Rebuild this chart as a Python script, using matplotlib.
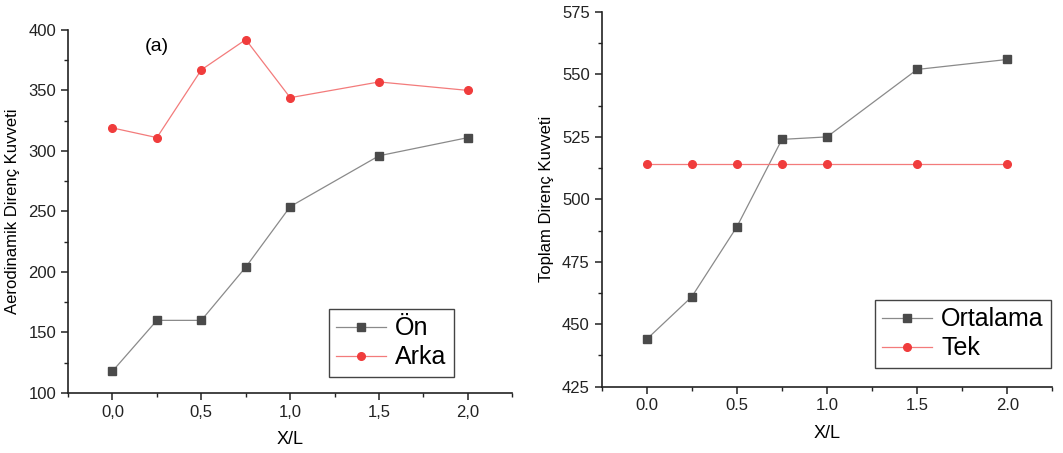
import matplotlib
matplotlib.use('Agg')
import matplotlib.pyplot as plt
from matplotlib.ticker import MultipleLocator, FuncFormatter

plt.rcParams['font.family'] = ['Liberation Sans', 'DejaVu Sans']

# data
xl = [0.0, 0.25, 0.5, 0.75, 1.0, 1.5, 2.0]
on = [118, 160, 160, 204, 254, 296, 311]
arka = [319, 311, 367, 392, 344, 357, 350]

ortalama = [444, 461, 489, 524, 525, 552, 556]
tek = [514, 514, 514, 514, 514, 514, 514]

GREY = '#4a4a4a'
GREY_LINE = '#8a8a8a'
RED = '#f03c3c'
RED_LINE = '#f37b7b'

fig = plt.figure(figsize=(10.63, 4.53), dpi=100)
ax1 = fig.add_axes([0.064, 0.1325, 0.418, 0.8015])
ax2 = fig.add_axes([0.566, 0.1464, 0.424, 0.8271])


def style(ax, ymaj):
    for s in ['top', 'right']:
        ax.spines[s].set_visible(False)
    for s in ['left', 'bottom']:
        ax.spines[s].set_linewidth(1.2)
        ax.spines[s].set_color('#222222')
    ax.xaxis.set_major_locator(MultipleLocator(0.5))
    ax.xaxis.set_minor_locator(MultipleLocator(0.25))
    ax.yaxis.set_major_locator(MultipleLocator(ymaj))
    ax.yaxis.set_minor_locator(MultipleLocator(ymaj / 2))
    ax.tick_params(which='major', direction='out', length=5, width=1.1, labelsize=12, colors='#222222')
    ax.tick_params(which='minor', direction='out', length=3, width=1.0, colors='#222222')
    ax.set_xlim(-0.25, 2.25)
    ax.set_xlabel('X/L', fontsize=13, labelpad=8)


def legend(ax, anchor):
    lg = ax.legend(loc='lower right', bbox_to_anchor=anchor, bbox_transform=fig.transFigure,
                   fontsize=18, frameon=True, fancybox=False, framealpha=1, edgecolor='#444444',
                   handlelength=2.0, handletextpad=0.35, borderpad=0.3, labelspacing=0.2,
                   borderaxespad=0)
    lg.get_frame().set_linewidth(1.0)


# left panel
ax1.plot(xl, on, color=GREY_LINE, lw=0.9, marker='s', ms=5.5, mfc=GREY, mec=GREY, label='Ön')
ax1.plot(xl, arka, color=RED_LINE, lw=0.9, marker='o', ms=5.5, mfc=RED, mec=RED, label='Arka')
style(ax1, 50)
ax1.set_ylim(100, 400)
ax1.xaxis.set_major_formatter(FuncFormatter(lambda v, p: f'{v:.1f}'.replace('.', ',')))
ax1.set_ylabel('Aerodinamik Direnç Kuvveti', fontsize=12, labelpad=6)
ax1.text(0.25, 386, '(a)', fontsize=14, ha='center', va='center')
legend(ax1, (0.427, 0.168))

# right panel
ax2.plot(xl, ortalama, color=GREY_LINE, lw=0.9, marker='s', ms=5.5, mfc=GREY, mec=GREY, label='Ortalama')
ax2.plot(xl, tek, color=RED_LINE, lw=0.9, marker='o', ms=5.5, mfc=RED, mec=RED, label='Tek')
style(ax2, 25)
ax2.set_ylim(425, 575)
ax2.xaxis.set_major_formatter(FuncFormatter(lambda v, p: f'{v:.1f}'))
ax2.set_ylabel('Toplam Direnç Kuvveti', fontsize=12, labelpad=6)
legend(ax2, (0.989, 0.188))

fig.savefig('out.png', dpi=100)
